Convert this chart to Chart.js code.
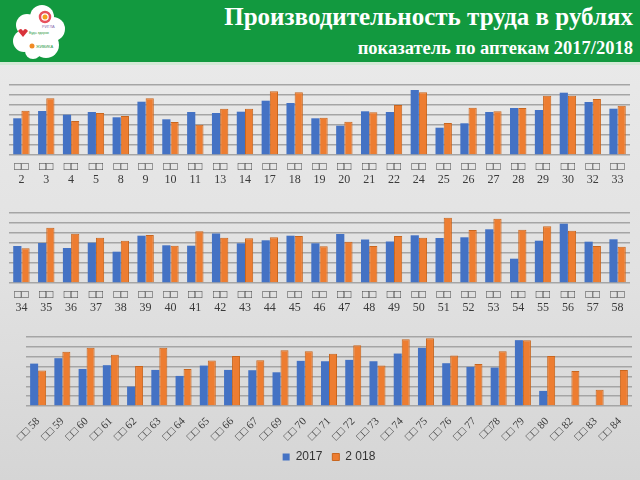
<!DOCTYPE html>
<html><head><meta charset="utf-8">
<script src="https://cdn.jsdelivr.net/npm/chart.js@4"></script>
<style>
html,body{margin:0;padding:0;width:640px;height:480px;overflow:hidden;}
body{background:linear-gradient(180deg,#ebebeb 0%,#e2e2e2 55%,#d5d5d5 100%);position:relative;font-family:"Liberation Serif",serif;}
#hdr{position:absolute;left:0;top:0;width:640px;height:62px;background:#12993f;border-bottom:3px solid #d3e9d6;}
#t1{position:absolute;right:7px;top:3px;color:#fff;font:bold 25px "Liberation Serif",serif;white-space:nowrap;}
#t2{position:absolute;right:7px;top:38px;color:#fff;font:bold 18.5px "Liberation Serif",serif;white-space:nowrap;}
#logo{position:absolute;left:10px;top:3px;}
canvas{position:absolute;left:0;}
</style></head>
<body>
<div id="hdr">
<svg id="logo" width="60" height="58" viewBox="0 0 60 58">
<g fill="#fff">
<circle cx="32" cy="14" r="12"/><circle cx="17" cy="22" r="11"/><circle cx="43" cy="26" r="12"/>
<circle cx="14" cy="38" r="11"/><circle cx="36" cy="42" r="13"/><circle cx="26" cy="30" r="14"/>
<circle cx="23" cy="48" r="8"/>
</g>
<circle cx="35" cy="14" r="5" fill="none" stroke="#e8505b" stroke-width="2.5"/>
<circle cx="35" cy="14" r="2.5" fill="#f3a01f"/>
<text x="32" y="25" font-size="4" fill="#8a6fb0" font-family="Liberation Sans">РИГЛА</text>
<path d="M8 28 q3 -4 5 0 q2 -4 5 0 l-5 6z" fill="#d9323a"/>
<text x="19" y="31" font-size="3.5" fill="#2a9a45" font-family="Liberation Sans">Будь здоров</text>
<circle cx="22" cy="43" r="2.5" fill="#f08a24"/>
<text x="26" y="45" font-size="4" fill="#2a9a45" font-family="Liberation Sans">ЖИВИКА</text>
</svg>
<div id="t1">Производительность труда в рублях</div>
<div id="t2">показатель по аптекам 2017/2018</div>
</div>
<canvas id="c1" width="640" height="111" style="top:78px"></canvas>
<canvas id="c2" width="640" height="111" style="top:206px"></canvas>
<canvas id="c3" width="640" height="143" style="top:330px"></canvas>
<script>
// Panel 1
const cats1 = ['2','3','4','5','8','9','10','11','13','14','17','18','19','20','21','22','24','25','26','27','28','29','30','32','33'];
const v2017_1 = [367,440,403,430,377,533,357,430,420,433,543,520,367,293,437,430,650,273,317,430,470,450,623,530,463];
const v2018_1 = [443,567,340,420,390,567,330,303,463,463,637,627,373,333,427,500,627,320,473,437,470,593,593,560,493];
// Panel 2
const cats2 = ['34','35','36','37','38','39','40','41','42','43','44','45','46','47','48','49','50','51','52','53','54','55','56','57','58'];
const v2017_2 = [370,400,350,403,313,473,377,373,495,397,427,473,397,490,435,415,477,450,457,537,243,423,593,413,437];
const v2018_2 = [347,553,493,453,423,480,373,517,453,447,457,470,367,412,370,470,452,653,530,643,533,567,523,370,363];
// Panel 3
const cats3 = ['58','59','60','61','62','63','64','65','66','67','69','70','71','72','73','74','75','76','77','78','79','80','82','83','84'];
const labels3 = ['□□ 58','□□ 59','□□ 60','□□ 61','□□ 62','□□ 63','□□ 64','□□ 65','□□ 66','□□ 67','□□ 69','□□ 70','□□ 71','□□ 72','□□ 73','□□ 74','□□ 75','□□ 76','□□ 77','□□78','□□ 79','□□ 80','□□ 82','□□ 83','□□ 84'];
const v2017_3 = [430,485,376,414,197,366,305,410,366,363,342,458,454,468,454,532,590,434,397,390,668,153,null,null,null];
const v2018_3 = [360,550,590,519,407,590,376,461,508,464,566,556,529,617,410,678,688,512,427,556,668,508,356,166,366];

const seriesNames = ['2017','2 018'];
const colors = ['#4472c4','#ed7d31'];

function ds(a,b){
  return [
    {label:seriesNames[0],data:a,backgroundColor:colors[0],barPercentage:1,categoryPercentage:0.66},
    {label:seriesNames[1],data:b,backgroundColor:colors[1],borderColor:'#c9661e',borderWidth:1,barPercentage:1,categoryPercentage:0.66}
  ];
}
function yAxis(){
  return {min:0,max:700,ticks:{display:false,stepSize:100},
    grid:{color:'#a5a5a5',lineWidth:1.5,drawTicks:false},border:{display:false},
    afterFit(s){s.width=0;}};
}
function twoRowChart(id,cats,a,b){
  new Chart(document.getElementById(id),{
    type:'bar',
    data:{labels:cats.map(c=>['□□',c]),datasets:ds(a,b)},
    options:{responsive:false,animation:false,
      layout:{padding:{top:7,left:9,right:10,bottom:0}},
      plugins:{legend:{display:false},tooltip:{enabled:false}},
      scales:{
        x:{grid:{display:false,drawTicks:false},border:{display:false},
          ticks:{color:'#3a3a3a',font:{family:'Liberation Serif',size:12,lineHeight:1.1},padding:5,autoSkip:false,maxRotation:0},
          afterFit(s){s.height=34;}},
        y:yAxis()
      }}
  });
}
twoRowChart('c1',cats1,v2017_1,v2018_1);
twoRowChart('c2',cats2,v2017_2,v2018_2);

new Chart(document.getElementById('c3'),{
  type:'bar',
  data:{labels:labels3,datasets:ds(v2017_3,v2018_3)},
  options:{responsive:false,animation:false,
    layout:{padding:{top:7,left:26,right:8,bottom:0}},
    plugins:{tooltip:{enabled:false},
      legend:{display:true,position:'bottom',
        labels:{boxWidth:7,boxHeight:7,padding:10,color:'#333',font:{family:'Liberation Sans',size:12}}}},
    scales:{
      x:{grid:{display:false,drawTicks:false},border:{display:false},
        ticks:{color:'#3a3a3a',font:{family:'Liberation Serif',size:11},padding:9,autoSkip:false,minRotation:45,maxRotation:45},
        afterFit(s){s.height=35;}},
      y:yAxis()
    }}
});
</script>
</body></html>
